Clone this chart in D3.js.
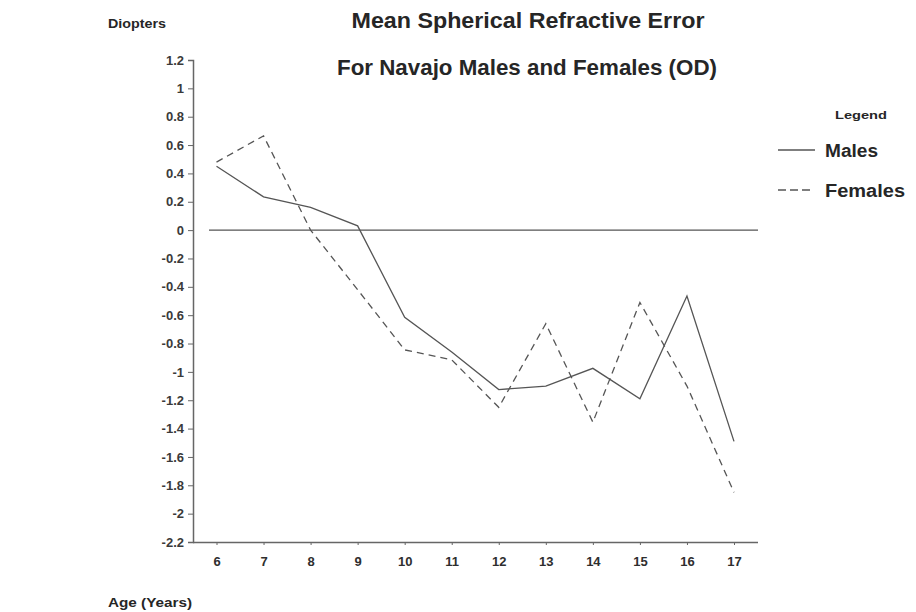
<!DOCTYPE html>
<html><head><meta charset="utf-8">
<script src="https://cdn.jsdelivr.net/npm/d3@7"></script>
<style>
body{margin:0;background:#fff;}
text{font-family:"Liberation Sans",Arial,Helvetica,sans-serif;}
</style></head>
<body><svg id="c" width="916" height="612"></svg>
<script>
const ages = [6,7,8,9,10,11,12,13,14,15,16,17];
const males = [0.45,0.235,0.16,0.03,-0.615,-0.86,-1.125,-1.10,-0.975,-1.19,-0.465,-1.49];
const females = [0.48,0.665,0.0,-0.42,-0.845,-0.915,-1.25,-0.66,-1.355,-0.51,-1.10,-1.85];
const yTicks = [1.2,1,0.8,0.6,0.4,0.2,0,-0.2,-0.4,-0.6,-0.8,-1,-1.2,-1.4,-1.6,-1.8,-2,-2.2];
const yTickLabels = ["1.2","1","0.8","0.6","0.4","0.2","0","-0.2","-0.4","-0.6","-0.8","-1","-1.2","-1.4","-1.6","-1.8","-2","-2.2"];
const seriesNames = ["Males","Females"];

const svg = d3.select("#c");
const x = d3.scaleLinear().domain([6,17]).range([216.5,734]);
const y = d3.scaleLinear().domain([-2.2,1.2]).range([542,60]);
const axisColor = "#666", lineColor = "#555", textColor = "#262626";

function label(xp, yp, txt, size, len, anchor){
  return svg.append("text").attr("x",xp).attr("y",yp).attr("text-anchor",anchor||"start")
    .attr("font-size",size).attr("font-weight","bold").attr("fill",textColor)
    .attr("textLength",len).attr("lengthAdjust","spacingAndGlyphs").text(txt);
}
// titles
label(528,28,"Mean Spherical Refractive Error",22,353,"middle");
label(527,75,"For Navajo Males and Females (OD)",22,380,"middle");
label(108,28,"Diopters",12,58);
label(108,607,"Age (Years)",12,84);

// y axis
const yAxis = d3.axisLeft(y).tickValues(yTicks).tickSize(5).tickPadding(4)
  .tickFormat((d,i)=>yTickLabels[i]);
const gy = svg.append("g").attr("transform","translate(193,0)").call(yAxis);
gy.select(".domain").attr("stroke",axisColor).attr("stroke-width",1.5);
gy.selectAll(".tick line").attr("stroke",axisColor);
gy.selectAll(".tick text").attr("font-size",13).attr("font-weight","bold").attr("fill","#3a3a3a")
  .attr("font-family","Liberation Sans,Arial,sans-serif");

// x axis
const xAxis = d3.axisBottom(x).tickValues(ages).tickSize(3).tickPadding(12).tickSizeOuter(0)
  .tickFormat(d3.format("d"));
const gx = svg.append("g").attr("transform","translate(0,542)").call(xAxis);
gx.select(".domain").attr("d","M193,0.5H758").attr("stroke",axisColor).attr("stroke-width",1.5);
gx.selectAll(".tick line").attr("stroke",axisColor);
gx.selectAll(".tick text").attr("font-size",13).attr("font-weight","bold").attr("fill","#2e2e2e")
  .attr("font-family","Liberation Sans,Arial,sans-serif");

// zero line
svg.append("line").attr("x1",209).attr("x2",758).attr("y1",y(0)).attr("y2",y(0))
  .attr("stroke",lineColor).attr("stroke-width",1.3);

const line = d3.line().x((d,i)=>x(ages[i])).y(d=>y(d));
svg.append("path").datum(males).attr("d",line).attr("fill","none")
  .attr("stroke",lineColor).attr("stroke-width",1.3);
svg.append("path").datum(females).attr("d",line).attr("fill","none")
  .attr("stroke",lineColor).attr("stroke-width",1.3).attr("stroke-dasharray","7,5");

// legend
label(835,119,"Legend",11,52);
const leg = [{name:seriesNames[0],dash:null,y:150,len:53},{name:seriesNames[1],dash:"8,4",y:190,len:80}];
leg.forEach(l=>{
  svg.append("line").attr("x1",778).attr("x2",l.dash?812:815).attr("y1",l.y).attr("y2",l.y)
    .attr("stroke",lineColor).attr("stroke-width",1.3).attr("stroke-dasharray",l.dash);
  label(825,l.y+6.5,l.name,18,l.len);
});
</script></body></html>
